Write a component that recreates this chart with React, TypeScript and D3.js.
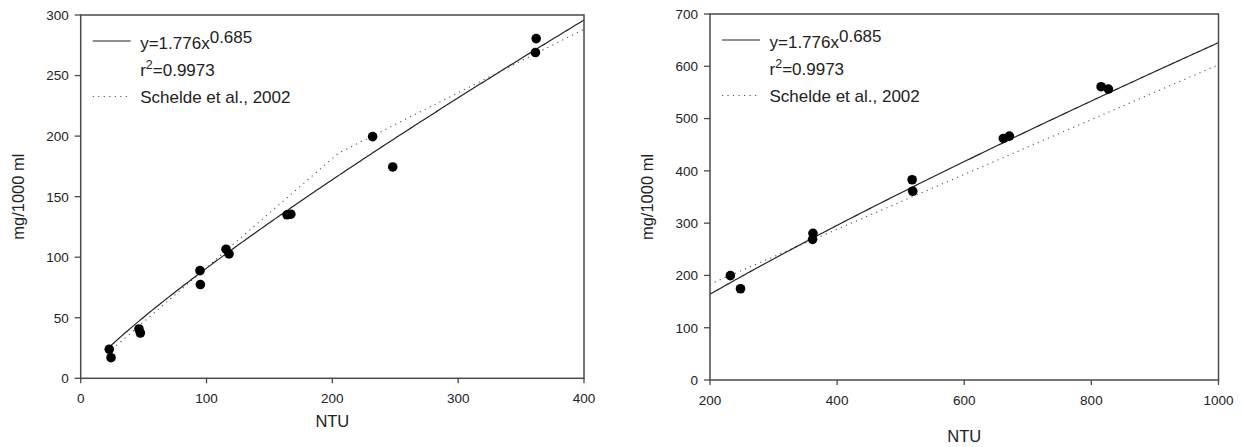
import React from "react";
import * as d3 from "d3";

// Measured turbidity (NTU) and matching dry-matter concentration (mg/1000 ml)
const NTU = [22.7, 24.1, 46.3, 47.4, 94.8, 95.1, 115.5, 117.9, 164, 167, 232, 248, 361.4, 362, 518, 519, 661.5, 671, 815.3, 826.8];
const MG = [24, 17, 40.7, 37.4, 88.9, 77.4, 106.6, 102.7, 135, 135.5, 199.6, 174.5, 269, 280.5, 383, 361, 462, 466.5, 561, 556.5];

// Power-law regression drawn as the solid curve
const FIT_A = 1.806;
const FIT_B = 0.851;

// Schelde et al. (2002) relationship, piecewise linear between knots
const SCHELDE_NTU = [25, 205, 1000];
const SCHELDE_MG = [24, 186, 603];

// Axis ticks
const LEFT_X_TICKS = [0, 100, 200, 300, 400];
const LEFT_Y_TICKS = [0, 50, 100, 150, 200, 250, 300];
const RIGHT_X_TICKS = [200, 400, 600, 800, 1000];
const RIGHT_Y_TICKS = [0, 100, 200, 300, 400, 500, 600, 700];

const LEGEND_EQ = "y=1.776x";
const LEGEND_EXP = "0.685";
const LEGEND_R2 = "=0.9973";
const LEGEND_REF = "Schelde et al., 2002";

const FONT = "'Liberation Sans', Arial, Helvetica, sans-serif";
const AXIS_COLOR = "#4a4a4a";

type PanelProps = {
  id: string;
  x0: number; x1: number; y0: number; y1: number;
  xDomain: [number, number]; yDomain: [number, number];
  xTicks: number[]; yTicks: number[];
  titleY: number; yTitleX: number;
};

function Panel(p: PanelProps) {
  const x = d3.scaleLinear().domain(p.xDomain).range([p.x0, p.x1]);
  const y = d3.scaleLinear().domain(p.yDomain).range([p.y1, p.y0]);

  const fitXs = d3.range(0, 201).map((i) => {
    const lo = Math.max(p.xDomain[0], d3.min(NTU) as number);
    return lo + ((p.xDomain[1] - lo) * i) / 200;
  });
  const fitLine = d3
    .line<number>()
    .x((v) => x(v))
    .y((v) => y(FIT_A * Math.pow(v, FIT_B)));

  const schelde = d3.scaleLinear().domain(SCHELDE_NTU).range(SCHELDE_MG);
  const sLo = Math.max(p.xDomain[0], SCHELDE_NTU[0]);
  const sXs = [sLo, ...SCHELDE_NTU.filter((v) => v > sLo && v < p.xDomain[1]), p.xDomain[1]];
  const scheldeLine = d3
    .line<number>()
    .x((v) => x(v))
    .y((v) => y(schelde(v)));

  const pts = NTU.map((n, i) => ({ n, m: MG[i] })).filter(
    (d) => d.n >= p.xDomain[0] && d.n <= p.xDomain[1]
  );

  const lx0 = p.x0 + 12;
  const lx1 = p.x0 + 50;
  const tx = p.x0 + 59.5;
  const clipId = `clip-${p.id}`;

  return (
    <g>
      <defs>
        <clipPath id={clipId}>
          <rect x={p.x0} y={p.y0} width={p.x1 - p.x0} height={p.y1 - p.y0} />
        </clipPath>
      </defs>

      {/* curves */}
      <g clipPath={`url(#${clipId})`}>
        <path d={scheldeLine(sXs) || ""} fill="none" stroke="#555" strokeWidth={1.1} strokeDasharray="1.2 4.3" />
        <path d={fitLine(fitXs) || ""} fill="none" stroke="#222" strokeWidth={1.2} />
      </g>

      {/* observations */}
      {pts.map((d, i) => (
        <circle key={i} cx={x(d.n)} cy={y(d.m)} r={4.8} fill="#000" />
      ))}

      {/* frame */}
      <rect x={p.x0} y={p.y0} width={p.x1 - p.x0} height={p.y1 - p.y0} fill="none" stroke={AXIS_COLOR} strokeWidth={1.5} />

      {/* y axis ticks */}
      {p.yTicks.map((t) => (
        <g key={`y${t}`}>
          <line x1={p.x0 - 6} x2={p.x0} y1={y(t)} y2={y(t)} stroke={AXIS_COLOR} strokeWidth={1.3} />
          <text x={p.x0 - 12} y={y(t)} dy="0.36em" textAnchor="end" fontSize={13.5} fontFamily={FONT} fill="#222">
            {t}
          </text>
        </g>
      ))}

      {/* x axis ticks */}
      {p.xTicks.map((t) => (
        <g key={`x${t}`}>
          <line x1={x(t)} x2={x(t)} y1={p.y1} y2={p.y1 + 5} stroke={AXIS_COLOR} strokeWidth={1.3} />
          <text x={x(t)} y={p.y1 + 24.5} textAnchor="middle" fontSize={13.5} fontFamily={FONT} fill="#222">
            {t}
          </text>
        </g>
      ))}

      {/* axis titles */}
      <text x={(p.x0 + p.x1) / 2} y={p.titleY} textAnchor="middle" fontSize={16.5} fontFamily={FONT} fill="#222">
        NTU
      </text>
      <text
        transform={`translate(${p.yTitleX},${(p.y0 + p.y1) / 2}) rotate(-90)`}
        dy="0.36em"
        textAnchor="middle"
        fontSize={16.5}
        fontFamily={FONT}
        fill="#222"
      >
        mg/1000 ml
      </text>

      {/* legend */}
      <line x1={lx0} x2={lx1} y1={p.y0 + 26} y2={p.y0 + 26} stroke="#222" strokeWidth={1.2} />
      <text x={tx} y={p.y0 + 34} fontSize={17} fontFamily={FONT} fill="#222">
        {LEGEND_EQ}
        <tspan dy={-6}>{LEGEND_EXP}</tspan>
      </text>
      <text x={tx} y={p.y0 + 60.5} fontSize={17} fontFamily={FONT} fill="#222">
        r
        <tspan fontSize={12.5} dy={-7}>2</tspan>
        <tspan dy={7}>{LEGEND_R2}</tspan>
      </text>
      <line x1={lx0} x2={lx1} y1={p.y0 + 81.5} y2={p.y0 + 81.5} stroke="#555" strokeWidth={1.1} strokeDasharray="1.2 4.3" />
      <text x={tx} y={p.y0 + 87.5} fontSize={17} fontFamily={FONT} fill="#222">
        {LEGEND_REF}
      </text>
    </g>
  );
}

export default function App() {
  return (
    <svg
      width={1242}
      height={447}
      style={{ position: "absolute", left: 0, top: 0, display: "block", background: "#fff" }}
    >
      <rect width={1242} height={447} fill="#fff" />
      <Panel
        id="low"
        x0={80.7} x1={584} y0={15} y1={378.3}
        xDomain={[0, 400]} yDomain={[0, 300]}
        xTicks={LEFT_X_TICKS} yTicks={LEFT_Y_TICKS}
        titleY={427} yTitleX={18.5}
      />
      <Panel
        id="high"
        x0={710} x1={1218.5} y0={14} y1={380}
        xDomain={[200, 1000]} yDomain={[0, 700]}
        xTicks={RIGHT_X_TICKS} yTicks={RIGHT_Y_TICKS}
        titleY={442} yTitleX={647}
      />
    </svg>
  );
}
